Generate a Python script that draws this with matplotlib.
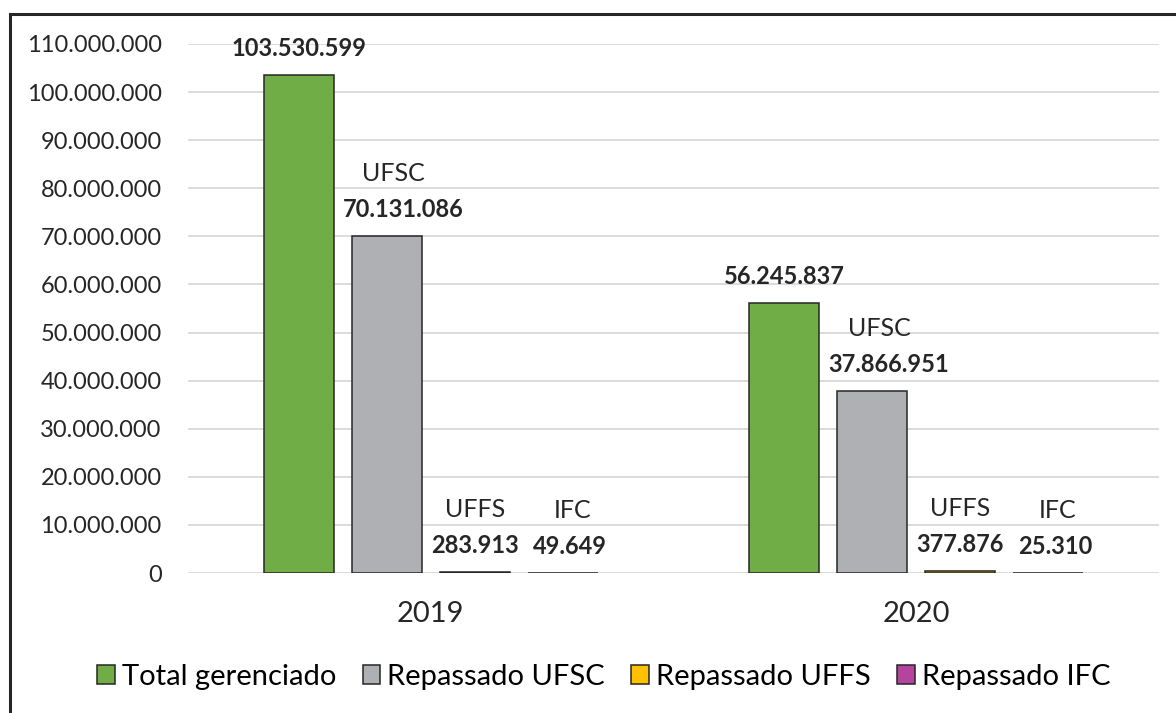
import matplotlib.pyplot as plt
from matplotlib.patches import Rectangle
from matplotlib.ticker import FuncFormatter, MultipleLocator
import numpy as np

# data
years = ['2019', '2020']
series = ['Total gerenciado', 'Repassado UFSC', 'Repassado UFFS', 'Repassado IFC']
names = [None, 'UFSC', 'UFFS', 'IFC']
total = [103530599, 56245837]
ufsc = [70131086, 37866951]
uffs = [283913, 377876]
ifc = [49649, 25310]

colors = ['#70AD47', '#AFB0B3', '#FFC000', '#B5449E']
edge = '#262626'

plt.rcParams['font.family'] = ['Lato', 'DejaVu Sans']
fs = 17


def fmt(v, pos=None):
    return f"{int(v):,}".replace(',', '.')


fig = plt.figure(figsize=(11.76, 7.13), dpi=100)
ax = fig.add_axes([188/1176, 1-573/713, (1159-188)/1176, (573-44)/713])

x = np.arange(len(years))
width = 0.144
pitch = 0.181
# small horizontal nudges for labels (points), as in the reference
val_dx = [0, 12, 0, 5]
name_dx = [0, 5, 0, 7]

for i, vals in enumerate([total, ufsc, uffs, ifc]):
    pos = x + (i - 1.5) * pitch
    ax.bar(pos, vals, width, color=colors[i], edgecolor=edge, linewidth=1.1,
           label=series[i], zorder=3)
    for p, v in zip(pos, vals):
        ax.annotate(fmt(v), (p, v), xytext=(val_dx[i], 19), textcoords='offset points',
                    ha='center', va='center', fontsize=fs, fontweight='bold',
                    color='#262626')
        if names[i]:
            ax.annotate(names[i], (p, v), xytext=(name_dx[i], 45),
                        textcoords='offset points', ha='center', va='center',
                        fontsize=fs + 1, color='#262626')

ax.set_xlim(-0.5, 1.5)
ax.set_ylim(0, 110000000)
ax.yaxis.set_major_locator(MultipleLocator(10000000))
ax.yaxis.set_major_formatter(FuncFormatter(fmt))
ax.set_xticks(x)
ax.set_xticklabels(years)
ax.tick_params(axis='both', length=0, labelsize=fs, colors='#262626')
ax.tick_params(axis='y', pad=19)
ax.tick_params(axis='x', pad=20, labelsize=21)
ax.grid(axis='y', color='#D9D9D9', linewidth=1.3, zorder=0)
for s in ax.spines.values():
    s.set_visible(False)

fig.legend(loc='center', bbox_to_anchor=(604/1176, 1-677/713), ncol=4,
           frameon=False, fontsize=21, handlelength=0.6, handleheight=0.65,
           handletextpad=0.25, columnspacing=0.9)

# outer chart frame, partly cut off by the image edge
fig.patches.append(Rectangle((10/1176, -0.1), 1.2, 1-14/713+0.1,
                             transform=fig.transFigure, fill=False,
                             edgecolor=edge, linewidth=2.2))

fig.savefig('out.png', dpi=100)
